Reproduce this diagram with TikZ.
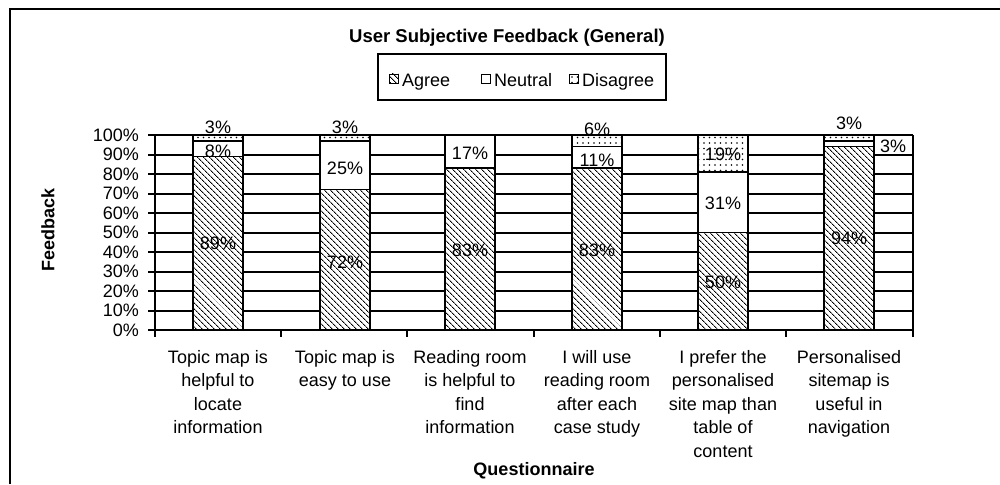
\documentclass[tikz,border=0pt]{standalone}
\usepackage{fontspec}
\setmainfont{Liberation Sans}
\usetikzlibrary{patterns.meta}
\tikzset{
  agreefill/.style={pattern={Lines[angle=-45,distance=4pt,line width=0.9pt]}},
  disfill/.style={pattern={Dots[distance=5.5pt,radius=0.9pt]}},
  barbox/.style={draw=black,line width=1.4pt},
  gridline/.style={draw=black,line width=2pt},
  lab/.style={font=\fontsize{18}{21}\selectfont,inner sep=0pt},
  boldlab/.style={font=\bfseries\fontsize{18}{21}\selectfont,inner sep=0pt},
  catlab/.style={font=\fontsize{18}{23.5}\selectfont,inner sep=0pt,align=center,anchor=north},
}
\begin{document}
\begin{tikzpicture}[x=1pt,y=-1pt]
\useasboundingbox (0,0) rectangle (1000,484);
\fill[white] (0,0) rectangle (1000,484);
% outer frame (cropped)
\draw[line width=2pt] (10,484) -- (10,9) -- (1000,9);
% title
\node[boldlab,font=\bfseries\fontsize{18.5}{21}\selectfont] (title) at (507,38) {User Subjective Feedback (General)};
% legend
\draw[line width=1.4pt] (378,54) rectangle (666,100);
\draw[line width=0.8pt,agreefill] (389,74) rectangle (398,83);
\node[lab,anchor=base west] (lagree) at (402,87) {Agree};
\draw[line width=0.8pt,fill=white] (481,74) rectangle (490,83);
\node[lab,anchor=base west] (lneutral) at (494,87) {Neutral};
\draw[line width=0.8pt,disfill] (569,74) rectangle (578,83);
\node[lab,anchor=base west] (ldis) at (582,87) {Disagree};
% gridlines and y ticks
\foreach \p in {0,10,...,100}{
  \pgfmathsetmacro\yy{330-1.95*\p}
  \draw[gridline] (148,\yy) -- (913,\yy);
  \node[lab,anchor=east] (yt\p) at (139,\yy) {\p\%};
}
% axes
\draw[gridline] (155,135) -- (155,337);
\draw[gridline] (913,135) -- (913,337);
\foreach \xx in {281,407,534,660,786}{
  \draw[line width=1.6pt] (\xx,330) -- (\xx,337);
}
% bars
\foreach \cx/\a/\n in {218/89/8,345/72/25,470/83/17,597/83/11,723/50/31,849/94/3}{
  \pgfmathsetmacro\ya{330-1.95*\a}
  \pgfmathsetmacro\yn{330-1.95*(\a+\n)}
  \fill[white] (\cx-25,330) rectangle (\cx+25,135);
  \draw[barbox,agreefill] (\cx-25,330) rectangle (\cx+25,\ya);
  \draw[barbox,fill=white] (\cx-25,\ya) rectangle (\cx+25,\yn);
  \draw[barbox,disfill] (\cx-25,\yn) rectangle (\cx+25,135);
}
% data labels
\node[lab] (d1) at (218,127) {3\%};
\node[lab] (n1) at (218,151) {8\%};
\node[lab] (a1) at (218,243) {89\%};
\node[lab] (d2) at (345,127) {3\%};
\node[lab] (n2) at (345,168) {25\%};
\node[lab] (a2) at (345,262) {72\%};
\node[lab] (n3) at (470,153) {17\%};
\node[lab] (a3) at (470,250) {83\%};
\node[lab] (d4) at (597,129) {6\%};
\node[lab] (n4) at (597,160) {11\%};
\node[lab] (a4) at (597,250) {83\%};
\node[lab] (d5) at (723,154) {19\%};
\node[lab] (n5) at (723,203) {31\%};
\node[lab] (a5) at (723,282) {50\%};
\node[lab] (d6) at (849,123) {3\%};
\node[lab] (n6) at (893,146) {3\%};
\node[lab] (a6) at (849,238) {94\%};
% category labels
\node[catlab] (c1) at (218,350) {Topic map is\\helpful to\\locate\\information};
\node[catlab] (c2) at (345,350) {Topic map is\\easy to use};
\node[catlab] (c3) at (470,350) {Reading room\\is helpful to\\find\\information};
\node[catlab] (c4) at (597,350) {I will use\\reading room\\after each\\case study};
\node[catlab] (c5) at (723,350) {I prefer the\\personalised\\site map than\\table of\\content};
\node[catlab] (c6) at (849,350) {Personalised\\sitemap is\\useful in\\navigation};
% axis titles
\node[boldlab,rotate=90] (ytitle) at (48,230) {Feedback};
\node[boldlab] (xtitle) at (534,471) {Questionnaire};
\end{tikzpicture}
\end{document}
